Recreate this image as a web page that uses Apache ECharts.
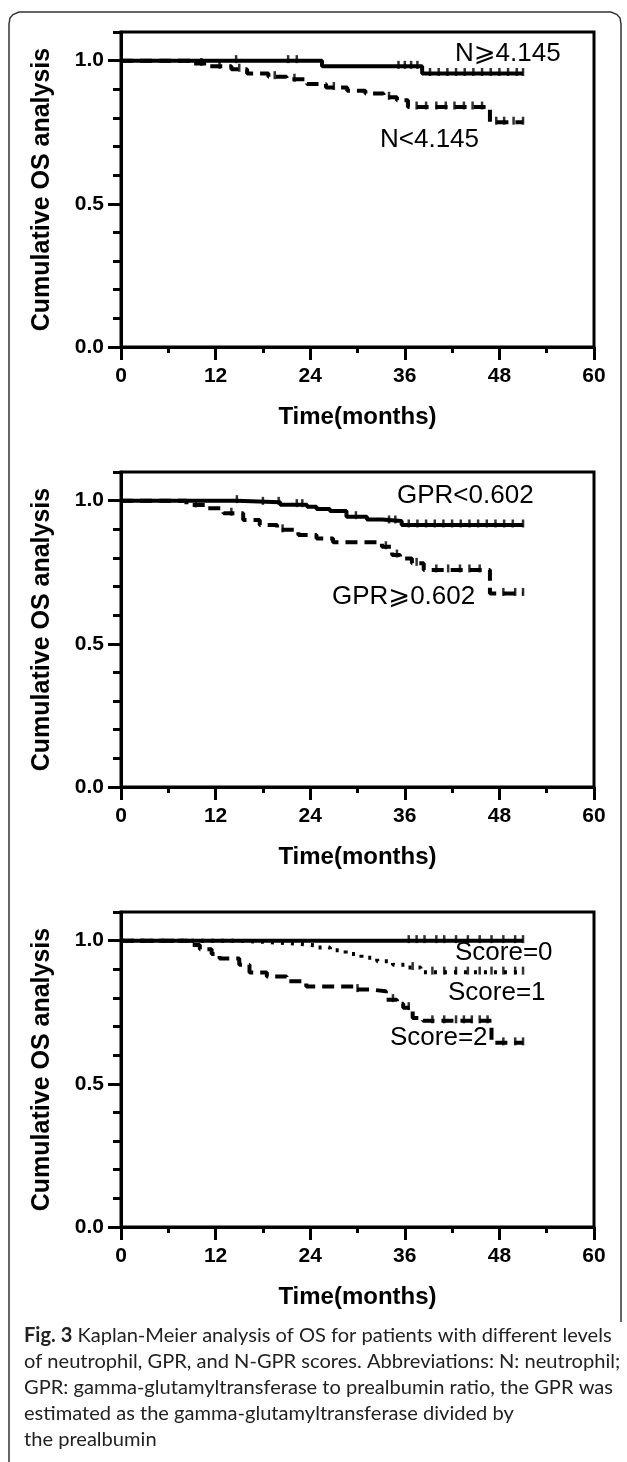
<!DOCTYPE html>
<html>
<head>
<meta charset="utf-8">
<script src="https://cdn.jsdelivr.net/npm/echarts@6/dist/echarts.min.js"></script>
<style>
html,body{margin:0;padding:0;background:#fff;}
#chart{width:627px;height:1462px;}
</style>
</head>
<body>
<div id="chart"></div>
<script>
// ---------- data ----------
const xTickValues = [0, 12, 24, 36, 48, 60];
const yLabelValues = [0, 0.5, 1.0];
const yMinorValues = [0.1, 0.2, 0.3, 0.4, 0.6, 0.7, 0.8, 0.9, 1.1];
const xTitle = 'Time(months)';
const yTitle = 'Cumulative OS analysis';

// Panel 1: neutrophil
const nHighName = 'N\u2A7E4.145';
const nHighCurve = [[0,1],[25.5,0.98],[38.2,0.955],[51,0.955]];
const nHighCens = [[14.6,1],[21.2,1],[22.3,1],[35.2,0.98],[36,0.98],[36.8,0.98],[37.6,0.98],[39.2,0.955],[40.3,0.955],[41.4,0.955],[42.5,0.955],[43.6,0.955],[44.7,0.955],[45.8,0.955],[46.9,0.955],[48,0.955],[49.1,0.955],[50.2,0.955],[51,0.955]];
const nLowName = 'N<4.145';
const nLowCurve = [[0,1],[8.8,0.99],[11.3,0.98],[14,0.97],[16,0.955],[18.7,0.944],[21,0.935],[23.6,0.918],[26,0.906],[28.7,0.895],[31,0.885],[33.3,0.872],[35,0.862],[36.4,0.838],[46.8,0.785],[51,0.785]];
const nLowCens = [[10.2,0.99],[12.5,0.98],[15,0.97],[19.5,0.944],[22,0.935],[27,0.906],[34,0.872],[37.5,0.838],[38.7,0.838],[40,0.838],[41.2,0.838],[42.3,0.838],[43.5,0.838],[44.6,0.838],[45.8,0.838],[47.6,0.785],[48.6,0.785],[49.8,0.785],[51,0.785]];

// Panel 2: GPR
const gprLowName = 'GPR<0.602';
const gprLowCurve = [[0,1],[14.7,0.994],[20.2,0.986],[23.6,0.979],[24.8,0.971],[26.5,0.964],[28.6,0.944],[31.2,0.934],[33.1,0.929],[35.6,0.915],[51,0.915]];
const gprLowCens = [[14.7,1],[18,0.994],[20,0.994],[22.3,0.986],[23,0.986],[29.8,0.944],[34,0.929],[34.8,0.929],[36.5,0.915],[37.6,0.915],[38.7,0.915],[39.8,0.915],[40.9,0.915],[42,0.915],[43.1,0.915],[44.2,0.915],[45.3,0.915],[46.4,0.915],[47.5,0.915],[48.6,0.915],[49.7,0.915],[51,0.915]];
const gprHighName = 'GPR\u2A7E0.602';
const gprHighCurve = [[0,1],[8.3,0.985],[10.9,0.973],[13,0.956],[15.5,0.932],[17.6,0.915],[19.8,0.898],[22.5,0.88],[24.8,0.868],[26.9,0.855],[33.1,0.839],[34.4,0.81],[35.4,0.798],[36.9,0.781],[38.4,0.758],[46.8,0.676],[51,0.676]];
const gprHighCens = [[9.5,0.985],[14,0.956],[20.5,0.898],[33.6,0.839],[35,0.81],[37.5,0.781],[40,0.758],[41.5,0.758],[43,0.758],[44.2,0.758],[45.5,0.758],[48.5,0.676],[50,0.676],[51,0.676]];

// Panel 3: N-GPR score
const score0Name = 'Score=0';
const score0Curve = [[0,1],[51,1]];
const score0Cens = [[36.5,1],[37.5,1],[38.5,1],[40,1],[41,1],[42.5,1],[44,1],[45.5,1],[47,1],[48.5,1],[50,1],[51,1]];
const score1Name = 'Score=1';
const score1Curve = [[0,1],[14,0.996],[18,0.99],[22,0.984],[24.5,0.976],[26.5,0.966],[28.5,0.953],[30.5,0.94],[32.5,0.928],[34.5,0.916],[36,0.906],[38,0.89],[51,0.89]];
const score1Cens = [[37,0.906],[39.5,0.89],[41,0.89],[42.5,0.89],[44,0.89],[45.5,0.89],[47,0.89],[48.5,0.89],[50,0.89],[51,0.89]];
const score2Name = 'Score=2';
const score2Curve = [[0,1],[8.5,0.985],[10,0.97],[11.5,0.953],[12.5,0.938],[15,0.916],[16.3,0.889],[18.5,0.875],[21,0.858],[23.5,0.84],[29.5,0.829],[31.8,0.823],[33.6,0.794],[35,0.78],[35.8,0.766],[37,0.73],[38.3,0.72],[47,0.643],[51,0.643]];
const score2Cens = [[30,0.829],[34.5,0.794],[36.5,0.766],[39.5,0.72],[41,0.72],[42.5,0.72],[43.5,0.72],[44.5,0.72],[45.5,0.72],[46.5,0.72],[48.5,0.643],[50,0.643],[51,0.643]];

const captionLines = [
  ['Fig. 3', ' Kaplan-Meier analysis of OS for patients with different levels'],
  ['', 'of neutrophil, GPR, and N-GPR scores. Abbreviations: N: neutrophil;'],
  ['', 'GPR: gamma-glutamyltransferase to prealbumin ratio, the GPR was'],
  ['', 'estimated as the gamma-glutamyltransferase divided by'],
  ['', 'the prealbumin']
];

// ---------- layout ----------
const AX = '"Liberation Sans", Arial, sans-serif';
const panelStep = 440;
const panels = [
  { curves: [
      {name: nHighName, data: nHighCurve, cens: nHighCens, type: 'solid'},
      {name: nLowName, data: nLowCurve, cens: nLowCens, type: [12, 7]} ],
    labels: [ {text: nHighName, x: 455, y: 22}, {text: nLowName, x: 380, y: 108} ] },
  { curves: [
      {name: gprLowName, data: gprLowCurve, cens: gprLowCens, type: 'solid'},
      {name: gprHighName, data: gprHighCurve, cens: gprHighCens, type: [12, 7]} ],
    labels: [ {text: gprLowName, x: 397, y: 24}, {text: gprHighName, x: 332, y: 125} ] },
  { curves: [
      {name: score0Name, data: score0Curve, cens: score0Cens, type: 'solid'},
      {name: score1Name, data: score1Curve, cens: score1Cens, type: [3, 7]},
      {name: score2Name, data: score2Curve, cens: score2Cens, type: [12, 7]} ],
    labels: [ {text: score0Name, x: 455, y: 41}, {text: score1Name, x: 448, y: 81}, {text: score2Name, x: 390, y: 126} ] }
];

const grid = [], xAxis = [], yAxis = [], series = [], graphic = [];
panels.forEach((p, i) => {
  const top = 32 + panelStep * i;
  grid.push({left: 121, width: 473, top: top, height: 315, show: true, borderColor: '#000', borderWidth: 3, backgroundColor: 'transparent'});
  xAxis.push({
    gridIndex: i, type: 'value', min: 0, max: 60, interval: 12,
    name: xTitle, nameLocation: 'middle', nameGap: 58,
    nameTextStyle: {fontFamily: AX, fontWeight: 'bold', fontSize: 24, color: '#000'},
    axisLine: {show: true, lineStyle: {color: '#000', width: 3}},
    axisTick: {show: true, length: 13, lineStyle: {color: '#000', width: 3}},
    minorTick: {show: true, splitNumber: 2, length: 6, lineStyle: {color: '#000', width: 3}},
    axisLabel: {fontFamily: AX, fontWeight: 'bold', fontSize: 21, color: '#000', margin: 19},
    splitLine: {show: false}
  });
  yAxis.push({
    gridIndex: i, type: 'value', min: 0, max: 1.1,
    name: yTitle, nameLocation: 'middle', nameGap: 66,
    nameTextStyle: {fontFamily: AX, fontWeight: 'bold', fontSize: 25, color: '#000'},
    axisLine: {show: true, lineStyle: {color: '#000', width: 3}},
    axisTick: {show: true, length: 13, customValues: yLabelValues, lineStyle: {color: '#000', width: 3}},
    axisLabel: {customValues: yLabelValues, formatter: v => v.toFixed(1), fontFamily: AX, fontWeight: 'bold', fontSize: 21, color: '#000', margin: 17},
    splitLine: {show: false}
  });
  yAxis.push({
    gridIndex: i, type: 'value', min: 0, max: 1.1, position: 'left',
    axisLine: {show: false},
    axisTick: {show: true, length: 8, customValues: yMinorValues, lineStyle: {color: '#000', width: 3}},
    axisLabel: {show: false},
    splitLine: {show: false}
  });
  p.curves.forEach(c => {
    series.push({
      type: 'line', name: c.name, xAxisIndex: i, yAxisIndex: 2 * i, data: c.data,
      step: 'end', symbol: 'none', silent: true, animation: false,
      lineStyle: {color: '#000', width: 4, type: c.type, cap: 'butt'}
    });
    series.push({
      type: 'scatter', name: c.name + ' censored', xAxisIndex: i, yAxisIndex: 2 * i, data: c.cens,
      symbol: 'rect', symbolSize: [2.5, 8], symbolOffset: [0, -1.5], silent: true, animation: false,
      itemStyle: {color: '#000'}
    });
  });
  p.labels.forEach(l => {
    graphic.push({type: 'text', x: l.x, y: top + l.y, style: {text: l.text, font: '26px "Liberation Sans", "DejaVu Sans", sans-serif', fill: '#000', verticalAlign: 'middle'}, silent: true});
  });
});

// caption font size fit to measured width
const capFamily = 'Lato, "Open Sans", sans-serif';
const mctx = document.createElement('canvas').getContext('2d');
mctx.font = '100px ' + capFamily;
const w1 = mctx.measureText(captionLines[0][0] + captionLines[0][1]).width;
const capSize = Math.max(17, Math.min(22, 100 * 588 / w1));
captionLines.forEach((ln, k) => {
  graphic.push({type: 'text', x: 24, y: 1336 + k * 26, silent: true,
    style: {text: (ln[0] ? '{b|' + ln[0] + '}' : '') + ln[1], font: capSize + 'px ' + capFamily, fill: '#222', verticalAlign: 'middle',
      rich: {b: {fontWeight: 'bold', fontFamily: capFamily, fontSize: capSize, fill: '#222'}}}});
});

// outer frame
graphic.push({type: 'polyline', silent: true, shape: {points: [[9, 1462], [9, 24], [10, 18], [13, 14.5], [19, 12], [611, 12], [617, 14.5], [620, 18], [621, 24], [621, 1322]]}, style: {stroke: '#333', lineWidth: 1.5, fill: null}});

const chart = echarts.init(document.getElementById('chart'), null, {renderer: 'canvas'});
chart.setOption({animation: false, backgroundColor: '#fff', grid, xAxis, yAxis, series, graphic});
</script>
</body>
</html>
